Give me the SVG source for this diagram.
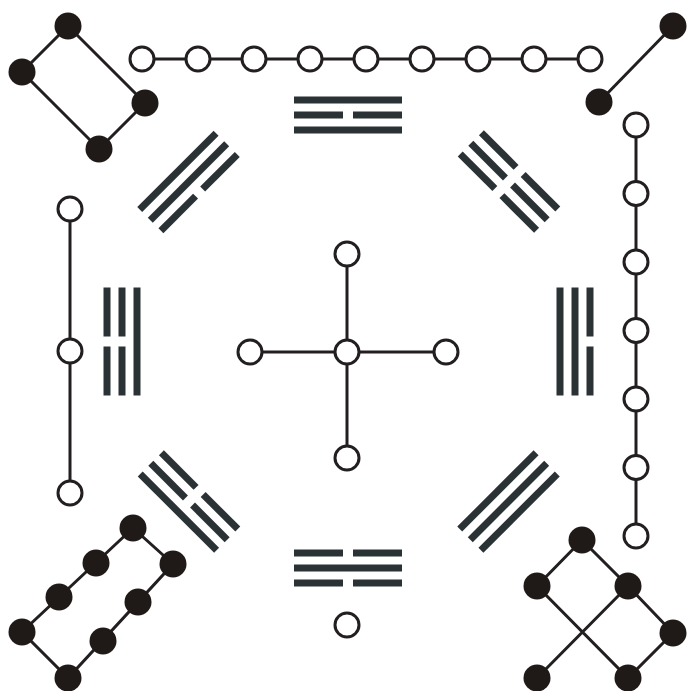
<svg xmlns="http://www.w3.org/2000/svg" xmlns:xlink="http://www.w3.org/1999/xlink" width="687" height="691" viewBox="0 0 687 691">
<style>
.ln{stroke:#231f20;stroke-width:3;fill:none}
.w{fill:#fff;stroke:#231f20;stroke-width:3}
.k{fill:#1f1a17}
.bar{fill:#2b3235}
</style>
<defs>
<rect id="s" class="bar" x="-54" y="-3.5" width="108" height="7"/>
<g id="b"><rect class="bar" x="-54" y="-3.5" width="49" height="7"/><rect class="bar" x="5" y="-3.5" width="49" height="7"/></g>
</defs>
<rect width="687" height="691" fill="#fff"/>
<g id="connectors">
<path class="ln" d="M68,26L22,72L99,149L145,103Z"/>
<path class="ln" d="M673,26L599,102"/>
<path class="ln" d="M142,59H590"/>
<path class="ln" d="M636,125V536"/>
<path class="ln" d="M70,209V493"/>
<path class="ln" d="M347,254V458M250,352H446"/>
<path class="ln" d="M133,528L22,632L68,678L173,564Z"/>
<path class="ln" d="M582,540L537,586L628,678L673,633L628,586L582,540M628,586L537,678"/>
</g>
<g id="tl-nodes"><circle class="k" cx="68" cy="26" r="13.5"/><circle class="k" cx="22" cy="72" r="13.5"/><circle class="k" cx="145" cy="103" r="13.5"/><circle class="k" cx="99" cy="149" r="13.5"/></g>
<g id="tr-nodes"><circle class="k" cx="673" cy="26" r="13.5"/><circle class="k" cx="599" cy="102" r="13.5"/></g>
<g id="top-row">
<circle class="w" cx="142" cy="59" r="12"/><circle class="w" cx="198" cy="59" r="12"/><circle class="w" cx="254" cy="59" r="12"/><circle class="w" cx="310" cy="59" r="12"/><circle class="w" cx="366" cy="59" r="12"/><circle class="w" cx="422" cy="59" r="12"/><circle class="w" cx="478" cy="59" r="12"/><circle class="w" cx="534" cy="59" r="12"/><circle class="w" cx="590" cy="59" r="12"/>
</g>
<g id="right-col">
<circle class="w" cx="636" cy="125" r="12"/><circle class="w" cx="636" cy="193.5" r="12"/><circle class="w" cx="636" cy="262" r="12"/><circle class="w" cx="636" cy="330.5" r="12"/><circle class="w" cx="636" cy="399" r="12"/><circle class="w" cx="636" cy="467.5" r="12"/><circle class="w" cx="636" cy="536" r="12"/>
</g>
<g id="left-col"><circle class="w" cx="70" cy="209" r="12"/><circle class="w" cx="70" cy="351" r="12"/><circle class="w" cx="70" cy="493" r="12"/></g>
<g id="center"><circle class="w" cx="347" cy="254" r="12"/><circle class="w" cx="347" cy="458" r="12"/><circle class="w" cx="250" cy="352" r="12"/><circle class="w" cx="446" cy="352" r="12"/><circle class="w" cx="347" cy="352" r="12"/></g>
<g id="bottom-node"><circle class="w" cx="347" cy="625" r="12"/></g>
<g id="bl-nodes"><circle class="k" cx="133" cy="528" r="13.5"/><circle class="k" cx="96" cy="563" r="13.5"/><circle class="k" cx="59" cy="597" r="13.5"/><circle class="k" cx="22" cy="632" r="13.5"/><circle class="k" cx="68" cy="678" r="13.5"/><circle class="k" cx="103" cy="641" r="13.5"/><circle class="k" cx="138" cy="602" r="13.5"/><circle class="k" cx="173" cy="564" r="13.5"/></g>
<g id="br-nodes"><circle class="k" cx="582" cy="540" r="13.5"/><circle class="k" cx="537" cy="586" r="13.5"/><circle class="k" cx="628" cy="586" r="13.5"/><circle class="k" cx="673" cy="633" r="13.5"/><circle class="k" cx="537" cy="678" r="13.5"/><circle class="k" cx="628" cy="678" r="13.5"/></g>
<g id="tri-top" transform="translate(348,115)"><use href="#s" y="-15"/><use href="#b"/><use href="#s" y="15"/></g>
<g id="tri-bottom" transform="translate(348,568) rotate(180)"><use href="#b" y="-15"/><use href="#s"/><use href="#b" y="15"/></g>
<g id="tri-left" transform="translate(122,341.5) rotate(-90)"><use href="#b" y="-15"/><use href="#b"/><use href="#s" y="15"/></g>
<g id="tri-right" transform="translate(575,341.5) rotate(90)"><use href="#b" y="-15"/><use href="#s"/><use href="#s" y="15"/></g>
<g id="tri-tl" transform="translate(188.5,182) rotate(-45)"><use href="#s" y="-15"/><use href="#s"/><use href="#b" y="15"/></g>
<g id="tri-tr" transform="translate(509,181.5) rotate(45)"><use href="#b" y="-15"/><use href="#b"/><use href="#b" y="15"/></g>
<g id="tri-bl" transform="translate(189,501.5) rotate(-135)"><use href="#s" y="-15"/><use href="#b"/><use href="#b" y="15"/></g>
<g id="tri-br" transform="translate(508.5,501.5) rotate(135)"><use href="#s" y="-15"/><use href="#s"/><use href="#s" y="15"/></g>
</svg>
